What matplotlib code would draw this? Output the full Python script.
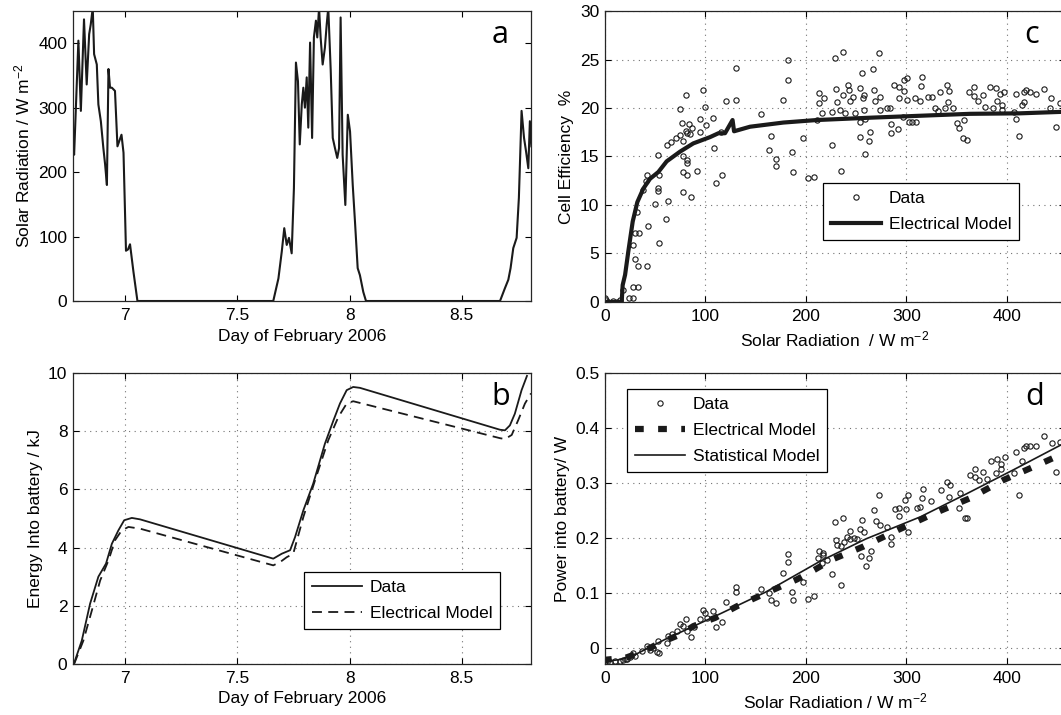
import matplotlib
matplotlib.use("Agg")
import matplotlib.pyplot as plt
from matplotlib.ticker import FuncFormatter

plt.rcParams['font.family'] = ['Liberation Sans', 'DejaVu Sans']
plt.rcParams['mathtext.fontset'] = 'custom'
plt.rcParams['mathtext.rm'] = 'Liberation Sans'
plt.rcParams['mathtext.it'] = 'Liberation Sans:italic'

# ---- panel a : solar radiation time series ----
rad_day = [6.768, 6.773, 6.792, 6.803, 6.817, 6.829, 6.840, 6.847, 6.856, 6.862,
           6.874, 6.881, 6.892, 6.903, 6.911, 6.919, 6.926, 6.933, 6.941, 6.955,
           6.966, 6.984, 6.993, 7.004, 7.013, 7.022, 7.037, 7.055,
           7.660, 7.683, 7.698, 7.709, 7.720, 7.730, 7.742, 7.752, 7.761, 7.770,
           7.778, 7.787, 7.794, 7.801, 7.809, 7.816, 7.824, 7.833, 7.841, 7.850,
           7.856, 7.864, 7.871, 7.880, 7.890, 7.898, 7.905, 7.916, 7.925, 7.935,
           7.945, 7.953, 7.960, 7.969, 7.981, 7.992, 8.002, 8.014, 8.024, 8.036,
           8.046, 8.061, 8.073,
           8.670, 8.692, 8.707, 8.717, 8.729, 8.744, 8.754, 8.760, 8.766, 8.777,
           8.786, 8.796, 8.803, 8.810]
rad_val = [240, 227, 404, 295, 437, 336, 414, 429, 455, 383,
           367, 305, 279, 238, 212, 180, 360, 331, 331, 326,
           240, 258, 230, 78, 80, 88, 46, 0,
           0, 35, 77, 113, 87, 98, 74, 175, 370, 341,
           243, 305, 331, 300, 347, 269, 401, 253, 409, 435,
           409, 455, 409, 367, 393, 429, 455, 357, 253, 237,
           222, 237, 440, 227, 149, 289, 263, 180, 123, 51,
           40, 14, 0,
           0, 20, 33, 51, 82, 98, 160, 227, 295, 253,
           232, 206, 279, 240]

# ---- panel b : cumulative energy into battery ----
energy_day = [6.773, 6.807, 6.844, 6.881, 6.915, 6.941, 6.970, 6.996, 7.030, 7.067,
              7.660, 7.698, 7.735, 7.757, 7.794, 7.838, 7.890, 7.928, 7.957, 7.987,
              8.016, 8.046, 8.670, 8.692, 8.714, 8.736, 8.766, 8.790]
energy_data = [0.03, 0.8, 2.07, 3.0, 3.45, 4.13, 4.59, 4.94, 5.02, 4.97,
               3.62, 3.79, 3.91, 4.36, 5.28, 6.20, 7.57, 8.37, 8.95, 9.41,
               9.52, 9.49, 8.05, 8.03, 8.20, 8.60, 9.41, 9.9]
model_day = [6.773, 6.814, 6.852, 6.889, 6.926, 6.955, 6.985, 7.015, 7.067,
             7.660, 7.690, 7.720, 7.749, 7.794, 7.846, 7.905, 7.950, 7.987, 8.016,
             8.670, 8.692, 8.722, 8.751, 8.781, 8.808]
energy_model = [0.0, 0.8, 1.84, 2.87, 3.56, 4.25, 4.59, 4.71, 4.65,
                3.39, 3.50, 3.67, 3.79, 5.05, 6.31, 7.69, 8.49, 8.95, 9.03,
                7.76, 7.73, 7.87, 8.38, 8.95, 9.3]

# ---- panel c : cell efficiency vs radiation ----
eff_rad = [0, 1, 3, 8, 12, 15, 18.3, 27.6, 33.2, 24.2, 27.6, 29.9, 33.2, 42.2, 28.2, 29.9,
           34.2, 43.2, 31.5, 53.8, 60.4, 50.2, 53.1, 53.1, 62.7, 37.5, 40.5,
           42.2, 53.1, 54.1, 61.4, 65.4, 70.7, 74.7, 77.4, 76.3, 74.7, 80.7,
           80.7, 84.0, 84.7, 86.3, 82.0, 78.0, 81.3, 81.3, 78.0, 82.0, 77.4,
           85.3, 91.3, 94.6, 94.6, 98.0, 99.6, 100.6, 107.2, 108.9, 110.6,
           116.6, 115.2, 120.5, 130.1, 130.1, 155.0, 165.0, 163.3, 170.0,
           170.0, 177.6, 182.6, 182.6, 186.6, 186.9, 196.9, 202.5, 207.8,
           213.5, 213.1, 218.1, 215.8, 210.8,
           225.8, 234.8, 228.8, 236.9, 229.8, 225.8, 230.8, 234.1, 237.4,
           239.1, 242.4, 243.4, 244.1, 247.4, 249.1, 253.4, 254.1, 255.8,
           256.8, 257.4, 257.4, 259.1, 253.4, 262.4, 264.1, 259.1, 266.8,
           268.1, 269.1, 272.4, 273.4, 274.1, 280.7, 284.1, 284.7, 284.7,
           288.1, 292.4, 292.4, 296.8, 291.4, 297.4, 300.8, 297.4, 300.8,
           302.8, 306.1, 310.1, 308.4, 313.4, 315.1, 315.7, 321.7, 325.1,
           328.4, 331.7, 333.4, 338.4, 340.7, 342.7, 341.7, 346.7, 350.0,
           352.4, 357.4, 356.7, 360.1, 362.4, 367.4, 367.4, 371.7, 376.1,
           378.4, 383.4, 389.4, 393.4, 397.4, 390.1, 386.8, 395.1, 395.1,
           406.8, 409.5, 409.5, 412.4, 415.1, 416.7, 417.4, 419.4, 423.4,
           429.4, 437.4, 444.3, 449.3, 443.3, 453.4]
eff_val = [0.4, 0.2, 0.0, 0.1, 0.0, 0.2, 1.24, 1.58, 1.58, 0.38, 0.45, 4.43, 3.74, 3.7, 5.88, 7.08,
           7.08, 7.84, 9.31, 6.11, 8.52, 10.1, 11.4, 11.8, 10.4, 11.5, 12.5,
           13.1, 15.2, 13.05, 16.2, 16.5, 16.9, 17.2, 16.6, 18.5, 19.9, 21.3,
           17.6, 18.3, 17.3, 17.9, 17.4, 15.0, 14.6, 14.3, 13.4, 13.05, 11.3,
           10.8, 13.5, 18.9, 17.5, 21.9, 20.1, 18.2, 19.0, 15.9, 12.3,
           13.1, 17.5, 20.7, 20.8, 24.1, 19.4, 17.1, 15.7, 14.7,
           14.0, 20.8, 22.9, 24.9, 15.5, 13.4, 16.9, 12.8, 12.9,
           21.5, 20.5, 21.0, 19.5, 18.8,
           16.2, 13.5, 25.2, 25.8, 22.0, 19.6, 20.6, 19.8, 21.3,
           19.5, 22.4, 21.9, 20.7, 21.1, 19.5, 22.1, 18.6, 23.6,
           21.0, 21.3, 19.8, 18.9, 17.0, 16.6, 17.5, 15.3, 24.0,
           21.9, 20.7, 25.7, 21.1, 19.8, 20.0, 20.0, 18.4, 17.4,
           22.4, 22.2, 21.0, 19.1, 17.8, 22.9, 23.1, 21.8, 20.8,
           18.6, 18.6, 18.6, 21.0, 20.7, 22.3, 23.2, 21.1, 21.1,
           20.0, 19.7, 21.6, 20.0, 22.4, 21.8, 20.6, 20.0, 18.5,
           17.9, 18.8, 16.9, 16.7, 21.7, 22.2, 21.2, 20.7, 21.3,
           20.1, 22.2, 22.1, 21.4, 21.7, 20.7, 20.0, 20.3, 19.8,
           19.6, 21.4, 18.9, 17.1, 20.3, 20.6, 21.7, 21.9, 21.6,
           21.4, 22.0, 21.0, 18.0, 20.0, 20.5]
eff_model_rad = [0, 16.6, 17.6, 20, 23.2, 27.6, 32.2, 38.2, 44.8, 53.1, 61.4, 74.7,
                 87.9, 104.6, 113, 119.5, 127, 128.5, 144.4, 177.6, 210.9, 264,
                 313.7, 363.5, 413, 454, 500]
eff_model = [0, 0, 1.75, 2.8, 5.2, 8.3, 10.3, 11.7, 12.7, 13.4, 14.5, 15.5,
             16.35, 17.0, 17.4, 17.4, 18.76, 17.6, 18.07, 18.5, 18.76, 19.0,
             19.2, 19.4, 19.45, 19.6, 19.7]

# ---- panel d : power into battery vs radiation ----
pwr_rad = [2, 5, 10, 15, 18, 22, 30, 45, 51.5,
           28.2, 36.5, 41.5, 48.1, 54.1, 53.1, 61.4, 63.1, 66.4, 71.4, 74.7, 78.0,
           80.7, 82.0, 85.3, 88.6, 94.6, 97.9, 99.6, 101.3, 107.2, 110.6, 116.9,
           120.5, 130.1, 130.1, 155.0, 163.6, 164.9, 169.9, 177.6, 182.6, 182.6,
           185.9, 186.9, 196.9, 202.5, 207.8, 213.1, 217.4, 212.4, 20.6, 25.2,
           225.8, 234.8, 228.8, 236.9, 229.8, 230.8, 234.8, 238.4, 241.1, 243.8,
           244.4, 247.7, 251.1, 253.7, 255.0, 256.0, 257.7, 259.5, 262.8, 264.5,
           267.8, 269.5, 272.8, 273.9, 281.1, 285.2, 285.2, 288.5, 292.8, 292.5,
           298.5, 301.8, 299.5, 301.8, 310.9, 314.1, 315.7, 316.8, 324.2, 334.1,
           340.8, 343.5, 342.5, 352.4, 353.5, 358.2, 360.8, 363.5, 368.1, 368.1,
           372.4, 376.7, 380.7, 384.0, 390.0, 394.0, 398.0, 389.0, 394.0, 406.8,
           409.5, 412.4, 415.1, 417.4, 419.4, 423.4, 429.4, 437.4, 445.0, 449.3,
           453.4, 217.4, 220.7, 215.8]
pwr_val = [-0.026, -0.027, -0.025, -0.024, -0.022, -0.020, -0.015, -0.005, -0.009,
           -0.0097, -0.0067, 0.0024, -0.0006, -0.0097, 0.0115, 0.0085, 0.0218, 0.0255,
           0.0297, 0.0436, 0.0388, 0.052, 0.0297, 0.0194, 0.0376, 0.0527, 0.069,
           0.062, 0.054, 0.066, 0.0376, 0.046, 0.0824, 0.111, 0.101, 0.1067,
           0.0994, 0.087, 0.082, 0.136, 0.171, 0.156, 0.101, 0.086, 0.12, 0.0885,
           0.0933, 0.175, 0.172, 0.163, -0.0206, -0.0176,
           0.134, 0.1145, 0.228, 0.236, 0.196, 0.187, 0.1855, 0.193, 0.202, 0.213,
           0.198, 0.2, 0.197, 0.216, 0.166, 0.233, 0.211, 0.148, 0.163, 0.175,
           0.251, 0.230, 0.278, 0.224, 0.219, 0.189, 0.201, 0.252, 0.254, 0.239,
           0.269, 0.278, 0.252, 0.211, 0.254, 0.256, 0.273, 0.289, 0.267, 0.287,
           0.302, 0.296, 0.275, 0.254, 0.282, 0.236, 0.236, 0.3145, 0.325, 0.31,
           0.306, 0.319, 0.307, 0.339, 0.343, 0.335, 0.347, 0.317, 0.326, 0.317,
           0.356, 0.278, 0.339, 0.363, 0.367, 0.367, 0.367, 0.386, 0.373, 0.319,
           0.375, 0.169, 0.160, 0.154]
pwr_model_rad = [0, 1.7, 20, 38, 54.8, 74.7, 88, 109.6, 131.2, 152.7, 171, 191,
                 209, 225.8, 257.4, 292.2, 328.7, 363.5, 396.6, 431.5, 449.7, 500]
pwr_model = [-0.028, -0.022, -0.019, -0.007, 0.0085, 0.0236, 0.039, 0.054, 0.075,
             0.093, 0.108, 0.124, 0.142, 0.16, 0.184, 0.2145, 0.245, 0.272, 0.305,
             0.333, 0.348, 0.39]
stat_rad = [0, 15, 30, 60, 105, 160, 214, 260, 314, 360, 407, 454, 500]
pwr_stat = [-0.025, -0.022, -0.013, 0.015, 0.053, 0.101, 0.157, 0.198, 0.238,
            0.28, 0.324, 0.369, 0.41]

W, H = 1061, 715
fig = plt.figure(figsize=(W / 100, H / 100), dpi=100)
FS = 12.5


def make_axes(l, t, r, b):
    return fig.add_axes([l / W, 1 - b / H, (r - l) / W, (b - t) / H])


def style(ax, grid=True):
    ax.tick_params(direction='in', length=4, width=0.8, top=True, right=True,
                   labelsize=FS, colors='k')
    ax.tick_params(axis='x', pad=5)
    ax.tick_params(axis='y', pad=4)
    for s in ax.spines.values():
        s.set_linewidth(0.9)
        s.set_color('0.15')
    if grid:
        ax.grid(True, color='0.45', linestyle=(0, (1, 4)), linewidth=0.8)
    ax.xaxis.set_major_formatter(FuncFormatter(lambda v, p: '%g' % v))
    ax.yaxis.set_major_formatter(FuncFormatter(lambda v, p: '%g' % v))


def letter(ax, s, x):
    ax.text(x, 0.89, s, transform=ax.transAxes, ha='center', va='baseline',
            fontsize=22, family=['Open Sans', 'DejaVu Sans'], color='k')


def legend(ax, x, y):
    leg = ax.legend(loc='upper left', bbox_to_anchor=(x, y), borderaxespad=0,
                    fontsize=FS, fancybox=False, framealpha=1,
                    edgecolor='k', handlelength=2.9, handletextpad=0.45,
                    labelspacing=0.62, borderpad=0.45)
    leg.get_frame().set_linewidth(0.9)
    return leg


# panel a
ax_a = make_axes(73, 11, 531, 301)
ax_a.plot(rad_day, rad_val, color='0.1', lw=1.5)
ax_a.set_xlim(6.768, 8.808)
ax_a.set_ylim(0, 450)
ax_a.set_xticks([7, 7.5, 8, 8.5])
ax_a.set_yticks([0, 100, 200, 300, 400])
style(ax_a, grid=False)
ax_a.set_xlabel('Day of February 2006', fontsize=FS, labelpad=4)
ax_a.set_ylabel(r'Solar Radiation / W m$^{-2}$', fontsize=FS, labelpad=4)
letter(ax_a, 'a', 0.932)

# panel b
ax_b = make_axes(73, 373, 531, 664)
ax_b.plot(energy_day, energy_data, color='0.1', lw=1.3, label='Data')
ax_b.plot(model_day, energy_model, color='0.1', lw=1.3, dashes=(5.5, 3.5),
          label='Electrical Model')
ax_b.set_xlim(6.768, 8.808)
ax_b.set_ylim(0, 10)
ax_b.set_xticks([7, 7.5, 8, 8.5])
ax_b.set_yticks([0, 2, 4, 6, 8, 10])
style(ax_b)
ax_b.set_xlabel('Day of February 2006', fontsize=FS, labelpad=4)
ax_b.set_ylabel('Energy Into battery / kJ', fontsize=FS, labelpad=4)
legend(ax_b, 0.504, 0.316)
letter(ax_b, 'b', 0.934)

# panel c
ax_c = make_axes(605, 11, 1065, 302)
ax_c.plot(eff_rad, eff_val, 'o', mfc='none', mec='0.1', ms=3.8, mew=0.8,
          label='Data')
ax_c.plot(eff_model_rad, eff_model, color='0.1', lw=3.0, label='Electrical Model')
ax_c.set_xlim(0, 458)
ax_c.set_ylim(0, 30)
ax_c.set_xticks([0, 100, 200, 300, 400])
ax_c.set_yticks([0, 5, 10, 15, 20, 25, 30])
style(ax_c)
ax_c.set_xlabel(r'Solar Radiation  / W m$^{-2}$', fontsize=FS, labelpad=4)
ax_c.set_ylabel('Cell Efficiency  %', fontsize=FS, labelpad=4)
legend(ax_c, 0.474, 0.409)
letter(ax_c, 'c', 0.928)

# panel d
ax_d = make_axes(605, 373, 1065, 664)
ax_d.plot(pwr_rad, pwr_val, 'o', mfc='none', mec='0.1', ms=3.8, mew=0.8,
          label='Data')
ax_d.plot(pwr_model_rad, pwr_model, color='0.1', lw=4.5, dashes=(1.4, 2.3),
          dash_capstyle='butt', label='Electrical Model')
ax_d.plot(stat_rad, pwr_stat, color='0.1', lw=1.2, label='Statistical Model')
ax_d.set_xlim(0, 458)
ax_d.set_ylim(-0.03, 0.5)
ax_d.set_xticks([0, 100, 200, 300, 400])
ax_d.set_yticks([0, 0.1, 0.2, 0.3, 0.4, 0.5])
style(ax_d)
ax_d.set_xlabel(r'Solar Radiation / W m$^{-2}$', fontsize=FS, labelpad=4)
ax_d.set_ylabel('Power into battery/ W', fontsize=FS, labelpad=4)
legend(ax_d, 0.048, 0.945)
letter(ax_d, 'd', 0.933)

fig.savefig('out.png', dpi=100)
